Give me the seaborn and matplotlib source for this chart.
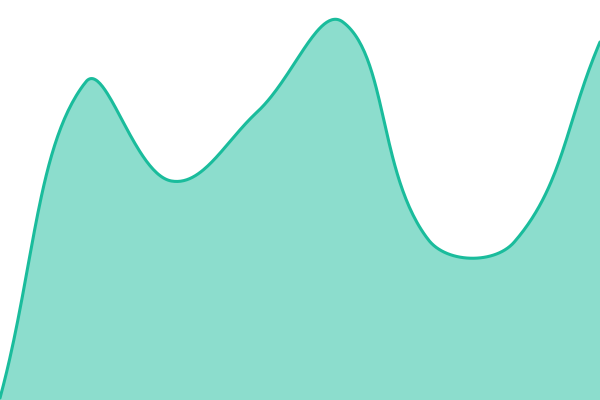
import numpy as np
import pandas as pd
import matplotlib
matplotlib.use("Agg")
import matplotlib.pyplot as plt
import seaborn as sns

# data
categories = ["A", "B", "C", "D", "E", "F", "G", "H"]
values = [2, 318, 219, 288, 378, 160, 158, 358]

LINE = "#1abc9c"
TENSION = 0.4
W, H = 600, 400
Y_MAX = 400

sns.set_theme(style="white")

fig = plt.figure(figsize=(6, 4), dpi=100)
ax = fig.add_axes([0, 0, 1, 1])

n = len(values)
xs = np.arange(n, dtype=float)
ys = np.array(values, dtype=float)

# pixel-space coordinates for spline smoothing (tension-based cubic)
pts = np.column_stack([xs * W / (n - 1), ys * H / Y_MAX])

cp_prev = np.zeros((n, 2))
cp_next = np.zeros((n, 2))
for i in range(n):
    p = pts[i]
    prv = pts[i - 1] if i > 0 else p
    nxt = pts[i + 1] if i < n - 1 else p
    d01 = np.hypot(*(p - prv))
    d12 = np.hypot(*(nxt - p))
    tot = d01 + d12
    s01 = d01 / tot if tot else 0
    s12 = d12 / tot if tot else 0
    v = nxt - prv
    cp_prev[i] = p - TENSION * s01 * v
    cp_next[i] = p + TENSION * s12 * v
cp_prev[:, 0] = np.clip(cp_prev[:, 0], 0, W)
cp_next[:, 0] = np.clip(cp_next[:, 0], 0, W)
cp_prev[:, 1] = np.clip(cp_prev[:, 1], 0, H)
cp_next[:, 1] = np.clip(cp_next[:, 1], 0, H)

curve = []
t = np.linspace(0, 1, 60)[:, None]
for i in range(n - 1):
    p0, p3 = pts[i], pts[i + 1]
    c1, c2 = cp_next[i], cp_prev[i + 1]
    seg = ((1 - t) ** 3) * p0 + 3 * ((1 - t) ** 2) * t * c1 + 3 * (1 - t) * t ** 2 * c2 + t ** 3 * p3
    curve.append(seg)
curve = np.vstack(curve)

df = pd.DataFrame({"x": curve[:, 0] * (n - 1) / W, "y": curve[:, 1] * Y_MAX / H})
ax.fill_between(df["x"], 0, df["y"], color=LINE, alpha=0.5, linewidth=0)
sns.lineplot(data=df, x="x", y="y", ax=ax, color=LINE, linewidth=2.2, sort=False, estimator=None)

ax.set_xlim(0, n - 1)
ax.set_ylim(0, Y_MAX)
ax.set_axis_off()

fig.savefig("out.png", dpi=100)
